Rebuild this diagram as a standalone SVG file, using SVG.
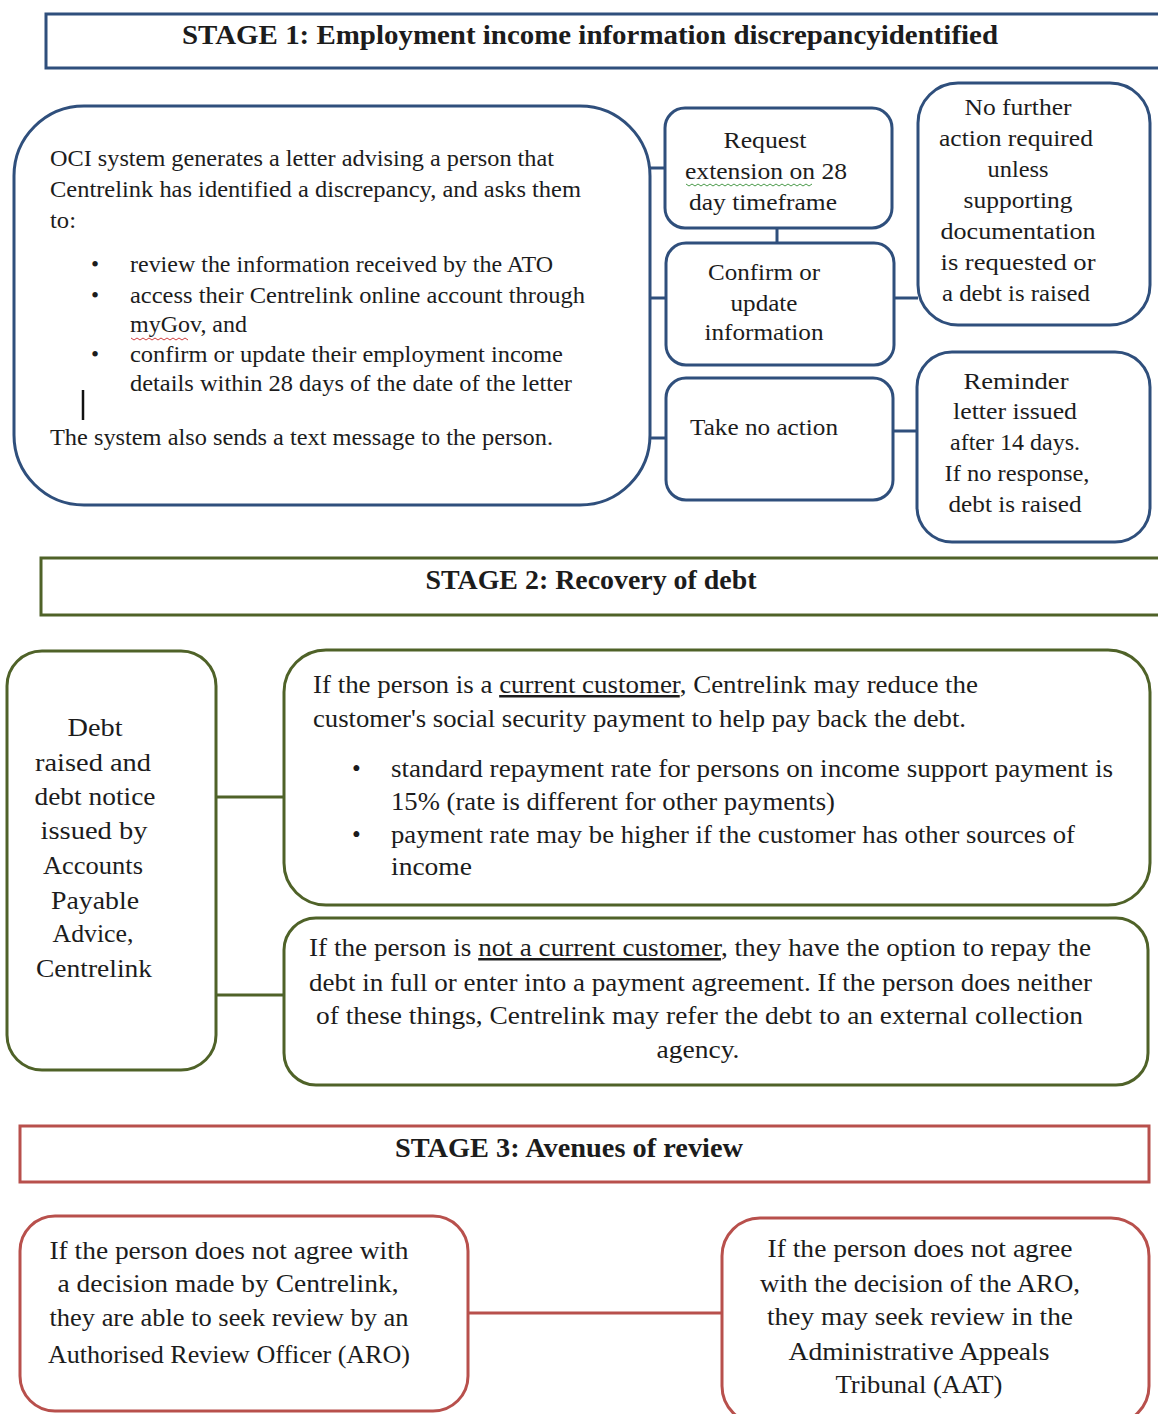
<svg xmlns="http://www.w3.org/2000/svg" width="1158" height="1414" viewBox="0 0 1158 1414">
<style>
text{font-family:"Liberation Serif","DejaVu Serif",serif;fill:#1c1c1c;}
.h{font-weight:bold;font-size:27px;text-anchor:middle;}
.s1{font-size:23px;}
.s2{font-size:25px;}
.m{text-anchor:middle;}
.blue{fill:#fff;stroke:#2f4f7c;stroke-width:3;}
.green{fill:#fff;stroke:#4f6228;stroke-width:3;}
.red{fill:#fff;stroke:#b8504c;stroke-width:3;}
.cb{stroke:#2f4f7c;stroke-width:3;fill:none;}
.cg{stroke:#4f6228;stroke-width:3;fill:none;}
.cr{stroke:#b8504c;stroke-width:3;fill:none;}
.u{text-decoration:underline;}
</style>
<rect width="1158" height="1414" fill="#fff"/>

<g id="connectors">
<line class="cb" x1="648" y1="168" x2="665" y2="168"/>
<line class="cb" x1="648" y1="298" x2="666" y2="298"/>
<line class="cb" x1="648" y1="438" x2="666" y2="438"/>
<line class="cb" x1="777" y1="228" x2="777" y2="243"/>
<line class="cb" x1="894" y1="298" x2="918" y2="298"/>
<line class="cb" x1="893" y1="431" x2="917" y2="431"/>
<line class="cg" x1="216" y1="797" x2="284" y2="797"/>
<line class="cg" x1="216" y1="995" x2="284" y2="995"/>
<line class="cr" x1="468" y1="1313" x2="722" y2="1313"/>
</g>

<g id="stage1-header">
<rect class="blue" x="46" y="14" width="1120" height="54"/>
<text class="h" x="590" y="44" textLength="816" lengthAdjust="spacingAndGlyphs">STAGE 1: Employment income information discrepancyidentified</text>
</g>

<g id="oci-letter">
<rect class="blue" x="14" y="106" width="636" height="399" rx="70" ry="70"/>
<text class="s1" x="50" y="166" textLength="504" lengthAdjust="spacingAndGlyphs">OCI system generates a letter advising a person that</text>
<text class="s1" x="50" y="197" textLength="531" lengthAdjust="spacingAndGlyphs">Centrelink has identified a discrepancy, and asks them</text>
<text class="s1" x="50" y="228" textLength="26" lengthAdjust="spacingAndGlyphs">to:</text>
<text class="s1" x="91" y="272">•</text>
<text class="s1" x="130" y="272" textLength="423" lengthAdjust="spacingAndGlyphs">review the information received by the ATO</text>
<text class="s1" x="91" y="303">•</text>
<text class="s1" x="130" y="303" textLength="455" lengthAdjust="spacingAndGlyphs">access their Centrelink online account through</text>
<text class="s1" x="130" y="332" textLength="117" lengthAdjust="spacingAndGlyphs">myGov, and</text>
<path d="M131 338 l3 2 l3 -2 l3 2 l3 -2 l3 2 l3 -2 l3 2 l3 -2 l3 2 l3 -2 l3 2 l3 -2 l3 2 l3 -2 l3 2 l3 -2 l3 2 l3 -2 l3 2" fill="none" stroke="#d04040" stroke-width="1"/>
<text class="s1" x="91" y="362">•</text>
<text class="s1" x="130" y="362" textLength="433" lengthAdjust="spacingAndGlyphs">confirm or update their employment income</text>
<text class="s1" x="130" y="391" textLength="442" lengthAdjust="spacingAndGlyphs">details within 28 days of the date of the letter</text>
<line x1="83" y1="390" x2="83" y2="420" stroke="#111" stroke-width="2.5"/>
<text class="s1" x="50" y="445" textLength="503" lengthAdjust="spacingAndGlyphs">The system also sends a text message to the person.</text>
</g>

<g id="request-extension">
<rect class="blue" x="665" y="108" width="227" height="120" rx="20" ry="20"/>
<text class="s1 m" x="765" y="148" textLength="83" lengthAdjust="spacingAndGlyphs">Request</text>
<text class="s1 m" x="766" y="179" textLength="162" lengthAdjust="spacingAndGlyphs">extension on 28</text>
<path d="M686 184 l3 2 l3 -2 l3 2 l3 -2 l3 2 l3 -2 l3 2 l3 -2 l3 2 l3 -2 l3 2 l3 -2 l3 2 l3 -2 l3 2 l3 -2 l3 2 l3 -2 l3 2 l3 -2 l3 2 l3 -2 l3 2 l3 -2 l3 2 l3 -2 l3 2 l3 -2 l3 2 l3 -2 l3 2 l3 -2 l3 2 l3 -2 l3 2 l3 -2 l3 2 l3 -2 l3 2 l3 -2 l3 2 l3 -2" fill="none" stroke="#4a9a4a" stroke-width="1"/>
<text class="s1 m" x="763" y="210" textLength="148" lengthAdjust="spacingAndGlyphs">day timeframe</text>
</g>

<g id="confirm-update">
<rect class="blue" x="666" y="243" width="228" height="122" rx="20" ry="20"/>
<text class="s1 m" x="764" y="280" textLength="112" lengthAdjust="spacingAndGlyphs">Confirm or</text>
<text class="s1 m" x="764" y="311" textLength="67" lengthAdjust="spacingAndGlyphs">update</text>
<text class="s1 m" x="764" y="340" textLength="119" lengthAdjust="spacingAndGlyphs">information</text>
</g>

<g id="take-no-action">
<rect class="blue" x="666" y="378" width="227" height="122" rx="20" ry="20"/>
<text class="s1" x="690" y="435" textLength="148" lengthAdjust="spacingAndGlyphs">Take no action</text>
</g>

<g id="no-further-action">
<rect class="blue" x="918" y="83" width="232" height="242" rx="40" ry="40"/>
<text class="s1 m" x="1018" y="115" textLength="107" lengthAdjust="spacingAndGlyphs">No further</text>
<text class="s1 m" x="1016" y="146" textLength="154" lengthAdjust="spacingAndGlyphs">action required</text>
<text class="s1 m" x="1018" y="177" textLength="61" lengthAdjust="spacingAndGlyphs">unless</text>
<text class="s1 m" x="1018" y="208" textLength="109" lengthAdjust="spacingAndGlyphs">supporting</text>
<text class="s1 m" x="1018" y="239" textLength="155" lengthAdjust="spacingAndGlyphs">documentation</text>
<text class="s1 m" x="1018" y="270" textLength="155" lengthAdjust="spacingAndGlyphs">is requested or</text>
<text class="s1 m" x="1016" y="301" textLength="148" lengthAdjust="spacingAndGlyphs">a debt is raised</text>
</g>

<g id="reminder-letter">
<rect class="blue" x="917" y="352" width="233" height="190" rx="35" ry="35"/>
<text class="s1 m" x="1016" y="389" textLength="105" lengthAdjust="spacingAndGlyphs">Reminder</text>
<text class="s1 m" x="1015" y="419" textLength="124" lengthAdjust="spacingAndGlyphs">letter issued</text>
<text class="s1 m" x="1015" y="450" textLength="130" lengthAdjust="spacingAndGlyphs">after 14 days.</text>
<text class="s1 m" x="1017" y="481" textLength="145" lengthAdjust="spacingAndGlyphs">If no response,</text>
<text class="s1 m" x="1015" y="512" textLength="133" lengthAdjust="spacingAndGlyphs">debt is raised</text>
</g>

<g id="stage2-header">
<rect class="green" x="41" y="558" width="1125" height="57"/>
<text class="h" x="591" y="589" textLength="331" lengthAdjust="spacingAndGlyphs">STAGE 2: Recovery of debt</text>
</g>

<g id="debt-raised">
<rect class="green" x="7" y="651" width="209" height="419" rx="35" ry="35"/>
<text class="s2 m" x="95" y="736" textLength="55" lengthAdjust="spacingAndGlyphs">Debt</text>
<text class="s2 m" x="93" y="771" textLength="116" lengthAdjust="spacingAndGlyphs">raised and</text>
<text class="s2 m" x="95" y="805" textLength="121" lengthAdjust="spacingAndGlyphs">debt notice</text>
<text class="s2 m" x="94" y="839" textLength="107" lengthAdjust="spacingAndGlyphs">issued by</text>
<text class="s2 m" x="93" y="874" textLength="100" lengthAdjust="spacingAndGlyphs">Accounts</text>
<text class="s2 m" x="95" y="909" textLength="88" lengthAdjust="spacingAndGlyphs">Payable</text>
<text class="s2 m" x="93" y="942" textLength="81" lengthAdjust="spacingAndGlyphs">Advice,</text>
<text class="s2 m" x="94" y="977" textLength="116" lengthAdjust="spacingAndGlyphs">Centrelink</text>
</g>

<g id="current-customer">
<rect class="green" x="284" y="650" width="866" height="255" rx="42" ry="42"/>
<text class="s2" x="313" y="693" textLength="665" lengthAdjust="spacingAndGlyphs">If the person is a <tspan class="u">current customer</tspan>, Centrelink may reduce the</text>
<text class="s2" x="313" y="727" textLength="653" lengthAdjust="spacingAndGlyphs">customer's social security payment to help pay back the debt.</text>
<text class="s2" x="352" y="777">•</text>
<text class="s2" x="391" y="777" textLength="722" lengthAdjust="spacingAndGlyphs">standard repayment rate for persons on income support payment is</text>
<text class="s2" x="391" y="810" textLength="444" lengthAdjust="spacingAndGlyphs">15% (rate is different for other payments)</text>
<text class="s2" x="352" y="843">•</text>
<text class="s2" x="391" y="843" textLength="684" lengthAdjust="spacingAndGlyphs">payment rate may be higher if the customer has other sources of</text>
<text class="s2" x="391" y="875" textLength="81" lengthAdjust="spacingAndGlyphs">income</text>
</g>

<g id="not-current-customer">
<rect class="green" x="284" y="918" width="864" height="167" rx="32" ry="32"/>
<text class="s2" x="309" y="956" textLength="782" lengthAdjust="spacingAndGlyphs">If the person is <tspan class="u">not a current customer</tspan>, they have the option to repay the</text>
<text class="s2" x="309" y="991" textLength="783" lengthAdjust="spacingAndGlyphs">debt in full or enter into a payment agreement. If the person does neither</text>
<text class="s2" x="316" y="1024" textLength="767" lengthAdjust="spacingAndGlyphs">of these things, Centrelink may refer the debt to an external collection</text>
<text class="s2 m" x="698" y="1058" textLength="83" lengthAdjust="spacingAndGlyphs">agency.</text>
</g>

<g id="stage3-header">
<rect class="red" x="20" y="1126" width="1129" height="56"/>
<text class="h" x="569" y="1157" textLength="348" lengthAdjust="spacingAndGlyphs">STAGE 3: Avenues of review</text>
</g>

<g id="aro-review">
<rect class="red" x="20" y="1216" width="448" height="195" rx="35" ry="35"/>
<text class="s2 m" x="229" y="1259" textLength="359" lengthAdjust="spacingAndGlyphs">If the person does not agree with</text>
<text class="s2 m" x="228" y="1292" textLength="341" lengthAdjust="spacingAndGlyphs">a decision made by Centrelink,</text>
<text class="s2 m" x="229" y="1326" textLength="359" lengthAdjust="spacingAndGlyphs">they are able to seek review by an</text>
<text class="s2 m" x="229" y="1363" textLength="362" lengthAdjust="spacingAndGlyphs">Authorised Review Officer (ARO)</text>
</g>

<g id="aat-review">
<rect class="red" x="722" y="1218" width="427" height="206" rx="38" ry="38"/>
<text class="s2 m" x="920" y="1257" textLength="305" lengthAdjust="spacingAndGlyphs">If the person does not agree</text>
<text class="s2 m" x="920" y="1292" textLength="320" lengthAdjust="spacingAndGlyphs">with the decision of the ARO,</text>
<text class="s2 m" x="920" y="1325" textLength="306" lengthAdjust="spacingAndGlyphs">they may seek review in the</text>
<text class="s2 m" x="919" y="1360" textLength="261" lengthAdjust="spacingAndGlyphs">Administrative Appeals</text>
<text class="s2 m" x="919" y="1393" textLength="167" lengthAdjust="spacingAndGlyphs">Tribunal (AAT)</text>
</g>
</svg>
